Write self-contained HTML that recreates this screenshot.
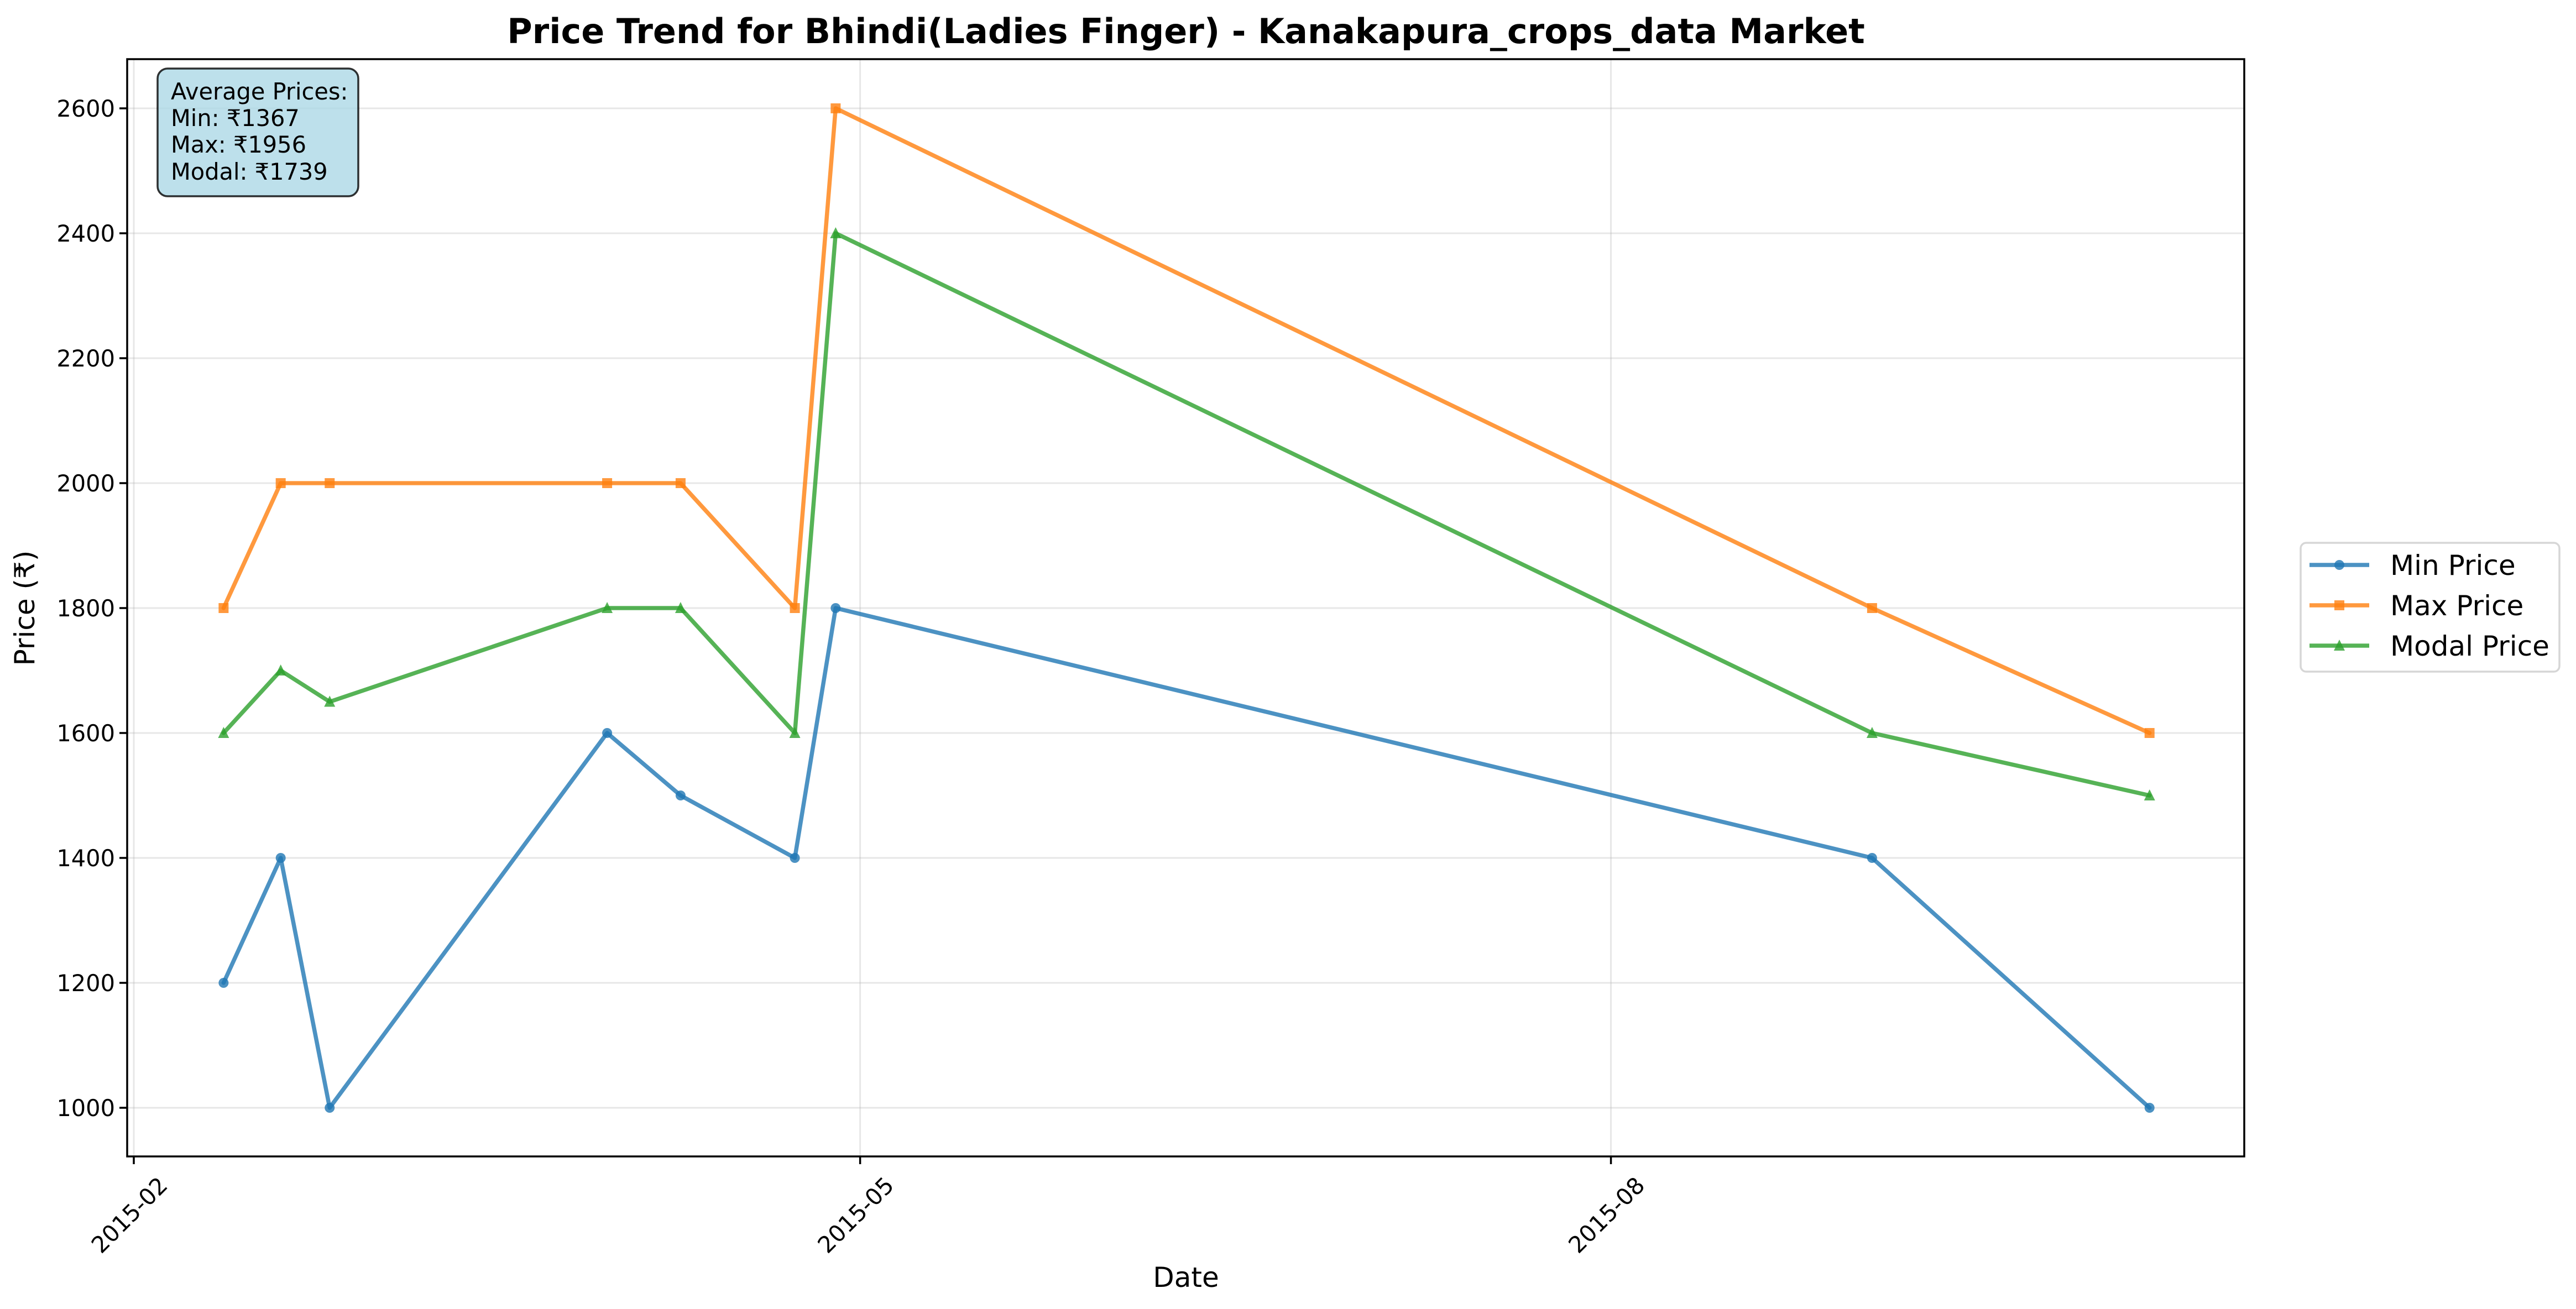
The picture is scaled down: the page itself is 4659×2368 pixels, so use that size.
<!DOCTYPE html>
<html><head><meta charset="utf-8"><style>
html,body{margin:0;padding:0;background:#fff;}
svg{display:block;font-family:"DejaVu Sans","Liberation Sans",sans-serif;}
</style></head><body>
<svg id="chart" width="4659" height="2368" viewBox="0 0 4659 2368" xmlns="http://www.w3.org/2000/svg">
<rect x="0" y="0" width="4659" height="2368" fill="#fff"/>
<text x="2145" y="78" font-size="62" font-weight="bold" text-anchor="middle">Price Trend for Bhindi(Ladies Finger) - Kanakapura_crops_data Market</text>
<g id="grid"></g>
<g id="series"></g>
<rect x="230" y="107" width="3829" height="1985" fill="none" stroke="#000" stroke-width="3.5"/>
<g id="axes"></g>
<text x="2145" y="2328" font-size="50" text-anchor="middle">Date</text>
<text x="0" y="0" font-size="50" text-anchor="middle" transform="translate(62,1100) rotate(-90)">Price (₹)</text>
<g>
<rect x="285" y="124" width="363" height="231" rx="18" fill="#add8e6" fill-opacity="0.8" stroke="#000" stroke-opacity="0.8" stroke-width="3.5"/>
<text font-size="41.5" x="309" y="180">Average Prices:</text>
<text font-size="41.5" x="309" y="228">Min: ₹1367</text>
<text font-size="41.5" x="309" y="276">Max: ₹1956</text>
<text font-size="41.5" x="309" y="325">Modal: ₹1739</text>
</g>
<g id="legend">
<rect x="4161" y="982" width="468" height="233" rx="10" fill="#fff" stroke="#d6d6d6" stroke-width="3.5"/>
</g>
</svg>
<script>
const dates = ["2015-02-12","2015-02-19","2015-02-25","2015-03-31","2015-04-09","2015-04-23","2015-04-28","2015-09-02","2015-10-06"];
const minPrice = [1200,1400,1000,1600,1500,1400,1800,1400,1000];
const maxPrice = [1800,2000,2000,2000,2000,1800,2600,1800,1600];
const modalPrice = [1600,1700,1650,1800,1800,1600,2400,1600,1500];
const yTicks = [1000,1200,1400,1600,1800,2000,2200,2400,2600];
const xTickDates = ["2015-02-01","2015-05-01","2015-08-01"];
const xTickLabels = ["2015-02","2015-05","2015-08"];

const NS="http://www.w3.org/2000/svg";
const day0 = Date.UTC(2015,1,1);
function days(s){const p=s.split("-");return (Date.UTC(+p[0],+p[1]-1,+p[2])-day0)/86400000;}
function xs(s){return 242 + days(s)*14.76;}
function ys(v){return 2004 - (v-1000)*1.13;}
function mk(tag,attrs,parent){const e=document.createElementNS(NS,tag);for(const k in attrs)e.setAttribute(k,attrs[k]);parent.appendChild(e);return e;}
const grid=document.getElementById("grid"), axes=document.getElementById("axes"), ser=document.getElementById("series"), leg=document.getElementById("legend");

yTicks.forEach(v=>{
  const y=ys(v);
  const g=mk("line",{x1:230,x2:4059,y1:y,y2:y,stroke:"#b0b0b0","stroke-opacity":"0.3","stroke-width":"3"},grid);
  
  
  const t=mk("line",{x1:216,x2:230,y1:y,y2:y,stroke:"#000","stroke-width":"3.5"},axes);
  
  
  const l=mk("text",{x:208,y:y+15,"font-size":"41.5","text-anchor":"end"},axes);
  l.textContent=v;
  
  
});
xTickDates.forEach((d,i)=>{
  const x=xs(d);
  const g=mk("line",{x1:x,x2:x,y1:107,y2:2092,stroke:"#b0b0b0","stroke-opacity":"0.3","stroke-width":"3"},grid);
  
  
  const t=mk("line",{x1:x,x2:x,y1:2092,y2:2106,stroke:"#000","stroke-width":"3.5"},axes);
  
  
  const l=mk("text",{x:0,y:0,"font-size":"41.5","text-anchor":"middle","dominant-baseline":"central",transform:`translate(${x-8},2198) rotate(-45)`},axes);
  l.textContent=xTickLabels[i];
  
  
});

const seriesDefs=[
  {name:"min-price",label:"Min Price",vals:minPrice,color:"#1f77b4",marker:"circle"},
  {name:"max-price",label:"Max Price",vals:maxPrice,color:"#ff7f0e",marker:"square"},
  {name:"modal-price",label:"Modal Price",vals:modalPrice,color:"#2ca02c",marker:"triangle"}
];
function marker(type,x,y,color,parent){
  let e;
  if(type==="circle") e=mk("circle",{cx:x,cy:y,r:9,fill:color,"fill-opacity":"0.8"},parent);
  else if(type==="square") e=mk("rect",{x:x-9,y:y-9,width:18,height:18,fill:color,"fill-opacity":"0.8"},parent);
  else e=mk("polygon",{points:`${x},${y-11} ${x-10},${y+9} ${x+10},${y+9}`,fill:color,"fill-opacity":"0.8"},parent);
  return e;
}
seriesDefs.forEach((s,si)=>{
  const g=mk("g",{},ser);
  
  
  const pts=s.vals.map((v,i)=>xs(dates[i])+","+ys(v)).join(" ");
  const pl=mk("polyline",{points:pts,fill:"none",stroke:s.color,"stroke-opacity":"0.8","stroke-width":"7.5","stroke-linejoin":"round","stroke-linecap":"round"},g);
  
  
  s.vals.forEach((v,i)=>{
    const m=marker(s.marker,xs(dates[i]),ys(v),s.color,g);
    
    
  });
  const ly=1022+si*73;
  const ll=mk("line",{x1:4177,x2:4285,y1:ly,y2:ly,stroke:s.color,"stroke-opacity":"0.8","stroke-width":"7.5"},leg);
  
  
  const lm=marker(s.marker,4231,ly,s.color,leg);
  
  
  const lt=mk("text",{x:4323,y:ly+18,"font-size":"50"},leg);
  lt.textContent=s.label;
  
  
});
</script>
</body></html>
